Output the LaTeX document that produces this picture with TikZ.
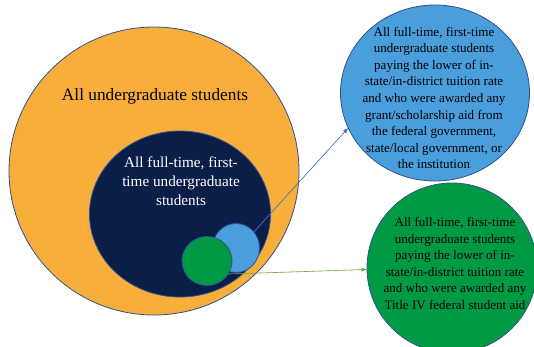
\documentclass[tikz,border=0pt]{standalone}
\usepackage{fontspec}
\setmainfont{Liberation Serif}
\usetikzlibrary{shapes.geometric,arrows.meta}
\definecolor{orangeF}{HTML}{F8AE3B}
\definecolor{navyF}{HTML}{0A1E47}
\definecolor{blueF}{HTML}{4A9EDC}
\definecolor{greenF}{HTML}{009A44}
\definecolor{edgeC}{HTML}{2F528F}
\definecolor{blueArrow}{HTML}{4472C4}
\definecolor{greenArrow}{HTML}{70AD47}
\tikzset{
  blob/.style={ellipse, draw=edgeC, line width=0.8pt, inner sep=0pt},
  lbl/.style={align=center, inner sep=0pt},
  conn/.style={line width=0.6pt, -{Triangle[length=5pt,width=4pt]}}
}
\begin{document}
\begin{tikzpicture}[x=1pt,y=-1pt]
\useasboundingbox[fill=white] (0,0) rectangle (534,346);
% orange
\node[blob, fill=orangeF, minimum width=290pt, minimum height=288pt] (all) at (154,171) {};
\node[lbl, font=\fontsize{17.3}{20}\selectfont] (allT) at (155,96) {All undergraduate students};
% navy
\node[blob, fill=navyF, minimum width=181pt, minimum height=166pt] (ft) at (180,214) {};
\node[lbl, text=white, font=\fontsize{15.2}{19}\selectfont] (ftT) at (181,181) {All full-time, first-\\time undergraduate\\students};
% small circles
\node[blob, fill=blueF, minimum width=47pt, minimum height=49pt] (sb) at (236,248) {};
\node[blob, fill=greenF, minimum width=50pt, minimum height=49pt] (sg) at (207,261) {};
% big blue
\node[blob, fill=blueF, minimum width=189pt, minimum height=176pt] (bb) at (435,93) {};
\node[lbl, font=\fontsize{13.05}{16.6}\selectfont] (bbT) at (434,98) {All full-time, first-time\\undergraduate students\\paying the lower of in-\\state/in-district tuition rate\\and who were awarded any\\grant/scholarship aid from\\the federal government,\\state/local government, or\\the institution};
% big green
\node[blob, fill=greenF, minimum width=170pt, minimum height=170pt] (gb) at (452,268) {};
\node[lbl, font=\fontsize{13.05}{16.6}\selectfont] (gbT) at (455,263.5) {All full-time, first-time\\undergraduate students\\paying the lower of in-\\state/in-district tuition rate\\and who were awarded any\\Title IV federal student aid};
% connectors
\draw[conn, draw=blueArrow, fill=blueArrow] (sb.42) -- (bb.202);
\draw[conn, draw=greenArrow, fill=greenArrow] (sg.-31) -- (gb.181);
\end{tikzpicture}
\end{document}
